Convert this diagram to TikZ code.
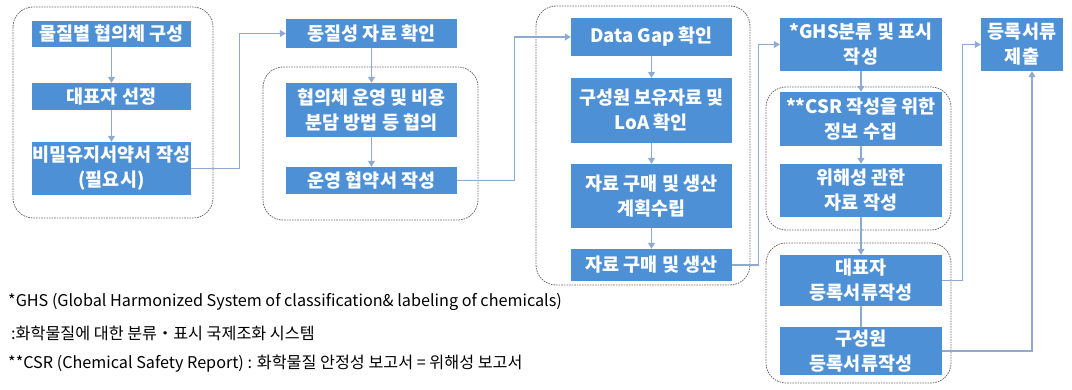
\documentclass[tikz,border=0pt]{standalone}
\usepackage{fontspec}
\setmainfont{Noto Sans CJK KR}
\usepackage{tikz}
\usetikzlibrary{arrows.meta}
\definecolor{boxblue}{HTML}{4E90D6}
\definecolor{linkblue}{HTML}{8FAAD0}
\definecolor{grpgray}{HTML}{6E6E6E}

\tikzset{
  stepbox/.style={fill=boxblue, text=white, font=\fontsize{18.5}{25}\selectfont\bfseries,
    align=center, inner sep=0pt},
  conn/.style={linkblue, line width=1.1pt, -{Triangle[length=6pt,width=7pt]}},
  plain/.style={linkblue, line width=1.1pt},
  grp/.style={grpgray, line width=0.8pt, dash pattern=on 1.6pt off 1pt, rounded corners=20pt},
  note/.style={anchor=west, font=\fontsize{16.2}{18}\selectfont, inner sep=0pt}
}

\begin{document}
\begin{tikzpicture}[x=1pt,y=-1pt]
\useasboundingbox (0,0) rectangle (1072,390);

\draw [grp] (13,7) rectangle (213,218);
\draw [grp] (263,67) rectangle (478,220);
\draw [grp] (536,6) rectangle (750,285);
\draw [grp] (766,87) rectangle (951,230);
\draw [grp] (766,243) rectangle (951,383);

\node [stepbox, minimum width=159pt, minimum height=26pt] (mul) at (111.5,34) {물질별 협의체 구성};
\node [stepbox, minimum width=159pt, minimum height=27pt] (dae) at (111.5,96.5) {대표자 선정};
\node [stepbox, minimum width=159pt, minimum height=53pt] (bimil) at (111.5,168.5) {비밀유지서약서 작성\\(필요시)};

\node [stepbox, minimum width=171pt, minimum height=29pt] (dong) at (371.5,33.5) {동질성 자료 확인};
\node [stepbox, minimum width=171pt, minimum height=54pt] (hyeop) at (371.5,110) {협의체 운영 및 비용\\분담 방법 등 협의};
\node [stepbox, minimum width=171pt, minimum height=27pt] (unyeong) at (371.5,180.5) {운영 협약서 작성};

\node [stepbox, minimum width=161pt, minimum height=38pt] (gap) at (651.5,37) {Data Gap 확인};
\node [stepbox, minimum width=161pt, minimum height=65pt] (boyu) at (651.5,110.5) {구성원 보유자료 및\\LoA 확인};
\node [stepbox, minimum width=161pt, minimum height=64pt] (gyehoek) at (651.5,196) {자료 구매 및 생산\\계획수립};
\node [stepbox, minimum width=161pt, minimum height=32pt] (gumae) at (651.5,265) {자료 구매 및 생산};

\node [stepbox, minimum width=162pt, minimum height=53pt] (ghs) at (861,44.5) {*GHS분류 및 표시\\작성};
\node [stepbox, minimum width=162pt, minimum height=54pt] (csr) at (861,119) {**CSR 작성을 위한\\정보 수집};
\node [stepbox, minimum width=162pt, minimum height=53pt] (wihae) at (861,190.5) {위해성 관한\\자료 작성};
\node [stepbox, minimum width=162pt, minimum height=51pt] (daepyo) at (861,280.5) {대표자\\등록서류작성};
\node [stepbox, minimum width=162pt, minimum height=48pt] (guseong) at (861,351) {구성원\\등록서류작성};

\node [stepbox, minimum width=82pt, minimum height=53pt] (jechul) at (1022,44.5) {등록서류\\제출};

\draw [conn] (mul) -- (dae);
\draw [conn] (dae) -- (bimil);
\draw [conn] (dong) -- (hyeop);
\draw [conn] (hyeop) -- (unyeong);
\draw [conn] (gap) -- (boyu);
\draw [conn] (boyu) -- (gyehoek);
\draw [conn] (gyehoek) -- (gumae);
\draw [conn] (ghs) -- (csr);
\draw [conn] (csr) -- (wihae);
\draw [conn] (wihae) -- (daepyo);
\draw [plain] (daepyo) -- (guseong);

\draw [conn] (bimil.east) -- ++(48,0) |- (dong.west);
\draw [conn] (unyeong.east) -- ++(57,0) |- (gap.west);
\draw [conn] (gumae.east) -- ++(26,0) |- (ghs.west);
\draw [conn] (daepyo.east) -- ++(20,0) |- (jechul.west);
\draw [conn] (guseong.east) -| ([xshift=10pt]jechul.south);

\node [note] (n1) at (8,302) {*GHS (Global Harmonized System of classification\& labeling of chemicals)};
\node [note] (n2) at (11,333) {:화학물질에 대한 분류・표시 국제조화 시스템};
\node [note] (n3) at (8,364) {**CSR (Chemical Safety Report) : 화학물질 안정성 보고서 = 위해성 보고서};
\end{tikzpicture}
\end{document}
